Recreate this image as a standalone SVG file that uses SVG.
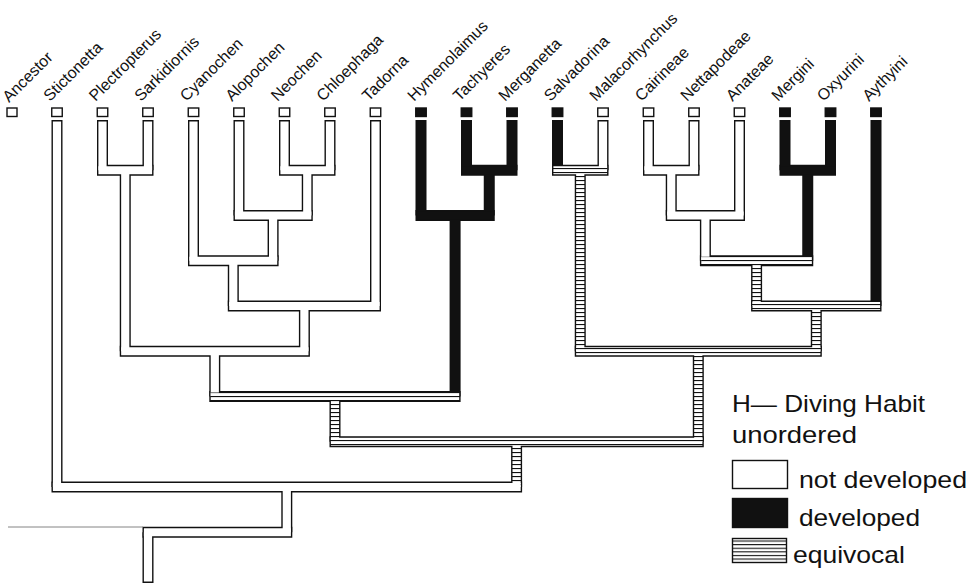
<svg xmlns="http://www.w3.org/2000/svg" width="975" height="586" viewBox="0 0 975 586">
<style>
.o{fill:none;stroke:#111;stroke-width:11}
.v{stroke-linecap:butt}
.b{stroke-linecap:square}
.f{fill:none;stroke-width:8.2}
.w{stroke:#fff}
.k{stroke:#111}
.e{stroke:url(#eq)}
.lbl{font-family:"Liberation Sans",Arial,sans-serif;font-size:16px;fill:#111}
.leg{font-family:"Liberation Sans",Arial,sans-serif;font-size:24px;fill:#111}
.bw{fill:#fff;stroke:#111;stroke-width:1.4}
.bk{fill:#111;stroke:#111;stroke-width:1.4}
</style>
<defs>
<pattern id="eq" patternUnits="userSpaceOnUse" x="0" y="0" width="4" height="4">
<rect width="4" height="4" fill="#fff"/>
<rect width="4" height="1.1" fill="#111"/>
</pattern>
<pattern id="eq2" patternUnits="userSpaceOnUse" x="0" y="0.5" width="4" height="3.6">
<rect width="4" height="3.6" fill="#fff"/>
<rect width="4" height="1.1" fill="#111"/>
</pattern>
</defs>
<rect width="975" height="586" fill="#fff"/>

<g id="connectors">
<g id="outline" class="o">
<path class="v" d="M57 120V487M102.5 120V170.25M148 120V170.25M193.5 120V260.75M239 120V215.5M284.5 120V170.25M330 120V170.25M375.5 120V306M421 120V215.5M466.5 120V170.25M512 120V170.25M557.5 120V170.25M603 120V170.25M648.5 120V170.25M694 120V170.25M739.5 120V215.5M785 120V170.25M830.5 120V170.25M876 120V306"/>
<path class="v" d="M125.25 170.25V351.25M307.25 170.25V215.5M273.1 215.5V260.75M233.3 260.75V306M304.4 306V351.25M214.8 351.25V396.5M489.25 170.25V215.5M455.1 215.5V396.5M335 396.5V441.75M580.25 170.25V351.25M671.25 170.25V215.5M705.4 215.5V260.75M807.75 170.25V260.75M756.6 260.75V306M816.3 306V351.25M698.3 351.25V441.75M516.6 441.75V487M286.8 487V532.25M148 532.25V583"/>
<path class="b" d="M102.5 170.25H148M284.5 170.25H330M239 215.5H307.25M193.5 260.75H273.1M233.3 306H375.5M125.25 351.25H304.4M466.5 170.25H512M421 215.5H489.25M214.8 396.5H455.1M557.5 170.25H603M648.5 170.25H694M671.25 215.5H739.5M785 170.25H830.5M705.4 260.75H807.75M756.6 306H876M580.25 351.25H816.3M335 441.75H698.3M57 487H516.6M148 532.25H286.8"/>
</g>
<g id="fill" class="f">
<path class="v w" d="M57 121.4V487M102.5 121.4V170.25M148 121.4V170.25M193.5 121.4V260.75M239 121.4V215.5M284.5 121.4V170.25M330 121.4V170.25M375.5 121.4V306M603 121.4V170.25M648.5 121.4V170.25M694 121.4V170.25M739.5 121.4V215.5"/>
<path class="v k" d="M421 121.4V215.5M466.5 121.4V170.25M512 121.4V170.25M557.5 121.4V170.25M785 121.4V170.25M830.5 121.4V170.25M876 121.4V306"/>
<path class="v w" d="M125.25 170.25V351.25M307.25 170.25V215.5M273.1 215.5V260.75M233.3 260.75V306M304.4 306V351.25M214.8 351.25V396.5M671.25 170.25V215.5M705.4 215.5V260.75M286.8 487V532.25M148 532.25V581.6"/>
<path class="v k" d="M489.25 170.25V215.5M455.1 215.5V396.5M807.75 170.25V260.75"/>
<path class="v e" d="M335 396.5V441.75M580.25 170.25V351.25M756.6 260.75V306M816.3 306V351.25M698.3 351.25V441.75M516.6 441.75V487"/>
<path class="b w" d="M102.5 170.25H148M284.5 170.25H330M239 215.5H307.25M193.5 260.75H273.1M233.3 306H375.5M125.25 351.25H304.4M648.5 170.25H694M671.25 215.5H739.5M57 487H516.6M148 532.25H286.8"/>
<path class="b k" d="M466.5 170.25H512M421 215.5H489.25M785 170.25H830.5"/>
<path class="b e" d="M214.8 396.5H455.1M557.5 170.25H603M705.4 260.75H807.75M756.6 306H876M580.25 351.25H816.3M335 441.75H698.3"/>
</g>
<path d="M8 527H143" stroke="#777" stroke-width="0.9" fill="none"/>
</g>

<g id="n-ancestor"><rect class="bw" x="7" y="108" width="10" height="8.5"/><text class="lbl" x="9" y="103" transform="rotate(-45 9 103)">Ancestor</text></g>
<g id="n-stictonetta"><rect class="bw" x="51.75" y="108" width="10.5" height="8.5"/><text class="lbl" x="50" y="102" transform="rotate(-45 50 102)">Stictonetta</text></g>
<g id="n-plectropterus"><rect class="bw" x="97.25" y="108" width="10.5" height="8.5"/><text class="lbl" x="95.5" y="102" transform="rotate(-45 95.5 102)">Plectropterus</text></g>
<g id="n-sarkidiornis"><rect class="bw" x="142.75" y="108" width="10.5" height="8.5"/><text class="lbl" x="141" y="102" transform="rotate(-45 141 102)">Sarkidiornis</text></g>
<g id="n-cyanochen"><rect class="bw" x="188.25" y="108" width="10.5" height="8.5"/><text class="lbl" x="186.5" y="102" transform="rotate(-45 186.5 102)">Cyanochen</text></g>
<g id="n-alopochen"><rect class="bw" x="233.75" y="108" width="10.5" height="8.5"/><text class="lbl" x="232" y="102" transform="rotate(-45 232 102)">Alopochen</text></g>
<g id="n-neochen"><rect class="bw" x="279.25" y="108" width="10.5" height="8.5"/><text class="lbl" x="277.5" y="102" transform="rotate(-45 277.5 102)">Neochen</text></g>
<g id="n-chloephaga"><rect class="bw" x="324.75" y="108" width="10.5" height="8.5"/><text class="lbl" x="323" y="102" transform="rotate(-45 323 102)">Chloephaga</text></g>
<g id="n-tadorna"><rect class="bw" x="370.25" y="108" width="10.5" height="8.5"/><text class="lbl" x="368.5" y="102" transform="rotate(-45 368.5 102)">Tadorna</text></g>
<g id="n-hymenolaimus"><rect class="bk" x="415.75" y="108" width="10.5" height="8.5"/><text class="lbl" x="414" y="102" transform="rotate(-45 414 102)">Hymenolaimus</text></g>
<g id="n-tachyeres"><rect class="bk" x="461.25" y="108" width="10.5" height="8.5"/><text class="lbl" x="459.5" y="102" transform="rotate(-45 459.5 102)">Tachyeres</text></g>
<g id="n-merganetta"><rect class="bk" x="506.75" y="108" width="10.5" height="8.5"/><text class="lbl" x="505" y="102" transform="rotate(-45 505 102)">Merganetta</text></g>
<g id="n-salvadorina"><rect class="bk" x="552.25" y="108" width="10.5" height="8.5"/><text class="lbl" x="550.5" y="102" transform="rotate(-45 550.5 102)">Salvadorina</text></g>
<g id="n-malacorhynchus"><rect class="bw" x="597.75" y="108" width="10.5" height="8.5"/><text class="lbl" x="596" y="102" transform="rotate(-45 596 102)">Malacorhynchus</text></g>
<g id="n-cairineae"><rect class="bw" x="643.25" y="108" width="10.5" height="8.5"/><text class="lbl" x="641.5" y="102" transform="rotate(-45 641.5 102)">Cairineae</text></g>
<g id="n-nettapodeae"><rect class="bw" x="688.75" y="108" width="10.5" height="8.5"/><text class="lbl" x="687" y="102" transform="rotate(-45 687 102)">Nettapodeae</text></g>
<g id="n-anateae"><rect class="bw" x="734.25" y="108" width="10.5" height="8.5"/><text class="lbl" x="732.5" y="102" transform="rotate(-45 732.5 102)">Anateae</text></g>
<g id="n-mergini"><rect class="bk" x="779.75" y="108" width="10.5" height="8.5"/><text class="lbl" x="778" y="102" transform="rotate(-45 778 102)">Mergini</text></g>
<g id="n-oxyurini"><rect class="bk" x="825.25" y="108" width="10.5" height="8.5"/><text class="lbl" x="823.5" y="102" transform="rotate(-45 823.5 102)">Oxyurini</text></g>
<g id="n-aythyini"><rect class="bk" x="870.75" y="108" width="10.5" height="8.5"/><text class="lbl" x="869" y="102" transform="rotate(-45 869 102)">Aythyini</text></g>

<g id="legend">
<text class="leg" x="732" y="412" textLength="193" lengthAdjust="spacingAndGlyphs">H— Diving Habit</text>
<text class="leg" x="732" y="443" textLength="125" lengthAdjust="spacingAndGlyphs">unordered</text>
<rect class="bw" x="732.5" y="460.5" width="55" height="28"/>
<text class="leg" x="799" y="488" textLength="168" lengthAdjust="spacingAndGlyphs">not developed</text>
<rect class="bk" x="732.5" y="498.5" width="55" height="29"/>
<text class="leg" x="799" y="526" textLength="121" lengthAdjust="spacingAndGlyphs">developed</text>
<rect x="732.5" y="538.5" width="54" height="24" fill="url(#eq2)" stroke="#111" stroke-width="1.4"/>
<text class="leg" x="793" y="563" textLength="112" lengthAdjust="spacingAndGlyphs">equivocal</text>
</g>
</svg>
